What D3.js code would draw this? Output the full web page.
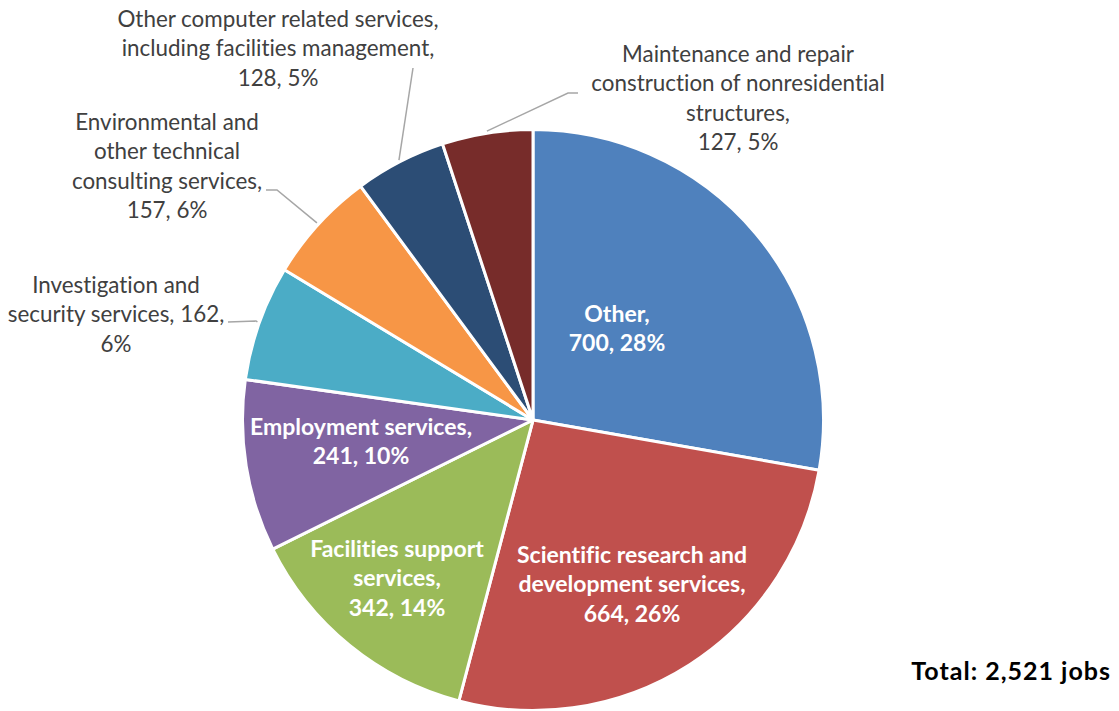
<!DOCTYPE html>
<html>
<head>
<meta charset="utf-8">
<script src="https://cdn.jsdelivr.net/npm/d3@7"></script>
<style>
  html, body { margin: 0; padding: 0; background: #fff; }
  svg { display: block; }
  text { font-family: Lato, "Open Sans", sans-serif; font-variant-ligatures: none; }
</style>
</head>
<body>
<svg id="chart" width="1119" height="711"></svg>
<script>
// Industry categories, clockwise from 12 o'clock
const categories = [
  "Other",
  "Scientific research and development services",
  "Facilities support services",
  "Employment services",
  "Investigation and security services",
  "Environmental and other technical consulting services",
  "Other computer related services, including facilities management",
  "Maintenance and repair construction of nonresidential structures"
];
// Jobs per category
const jobs = [700, 664, 342, 241, 162, 157, 128, 127];
const colors = ["#4F81BD", "#C0504D", "#9BBB59", "#8064A2", "#4BACC6", "#F79646", "#2C4D75", "#772C2A"];

// Label placement: anchor (centre x, first baseline y), words per line,
// whether the label sits inside its slice, and leader elbow points.
const labelLayout = [
  { x: 617, y: 322, lines: [1, 2], inside: true },
  { x: 632, y: 563, lines: [3, 2, 2], inside: true },
  { x: 397, y: 557, lines: [2, 1, 2], inside: true },
  { x: 361, y: 435, lines: [2, 2], inside: true },
  { x: 116, y: 293, lines: [2, 3, 1], inside: false, leader: [[228, 322], [256, 321]] },
  { x: 167, y: 130, lines: [2, 2, 2, 2], inside: false, leader: [[266, 190], [277, 190]] },
  { x: 278, y: 27, lines: [4, 3, 2], inside: false, leader: [[413, 68]] },
  { x: 738, y: 62, lines: [3, 3, 1, 2], inside: false, leader: [[578, 93], [568, 93]] }
];

const cx = 533, cy = 420, radius = 290.5, lineHeight = 29.3;
const total = d3.sum(jobs);
const data = categories.map((c, i) => ({ name: c, value: jobs[i], color: colors[i], layout: labelLayout[i] }));

const svg = d3.select("#chart");
const g = svg.append("g").attr("transform", `translate(${cx},${cy})`);

const pie = d3.pie().value(d => d.value).sort(null);
const arc = d3.arc().innerRadius(0).outerRadius(radius);
const arcs = pie(data);

g.selectAll("path.slice")
  .data(arcs)
  .join("path")
  .attr("class", "slice")
  .attr("d", arc)
  .attr("fill", d => d.data.color)
  .attr("stroke", "#fff")
  .attr("stroke-width", 3)
  .attr("stroke-linejoin", "round");

// Leader lines from outside labels to slice edge
const edge = d3.arc().innerRadius(radius + 2).outerRadius(radius + 2);
const leaderLine = d3.line();
arcs.filter(a => !a.data.layout.inside).forEach(a => {
  const [ex, ey] = edge.centroid(a);
  const pts = a.data.layout.leader.map(p => [p[0] - cx, p[1] - cy]).concat([[ex, ey]]);
  g.append("path")
    .attr("d", leaderLine(pts))
    .attr("fill", "none")
    .attr("stroke", "#A6A6A6")
    .attr("stroke-width", 1.5);
});

// Data labels: "name, value, percent" broken into lines
const pctFmt = v => Math.round(v / total * 100) + "%";
const labels = svg.append("g");
data.forEach(d => {
  const words = `${d.name}, ${d.value}, ${pctFmt(d.value)}`.split(" ");
  const lines = [];
  let k = 0;
  d.layout.lines.forEach(n => { lines.push(words.slice(k, k + n).join(" ")); k += n; });
  const t = labels.append("text")
    .attr("text-anchor", "middle")
    .attr("font-size", d.layout.inside ? 23 : 22.4)
    .attr("font-weight", d.layout.inside ? 700 : 400)
    .attr("fill", d.layout.inside ? "#fff" : "#404040");
  lines.forEach((s, i) => {
    t.append("tspan").attr("x", d.layout.x).attr("y", d.layout.y + i * lineHeight).text(s);
  });
});

svg.append("text")
  .attr("x", 1111)
  .attr("y", 680)
  .attr("text-anchor", "end")
  .attr("font-size", 25)
  .attr("letter-spacing", 1)
  .attr("font-weight", 700)
  .attr("fill", "#000")
  .text(`Total: ${d3.format(",")(total)} jobs`);
</script>
</body>
</html>
